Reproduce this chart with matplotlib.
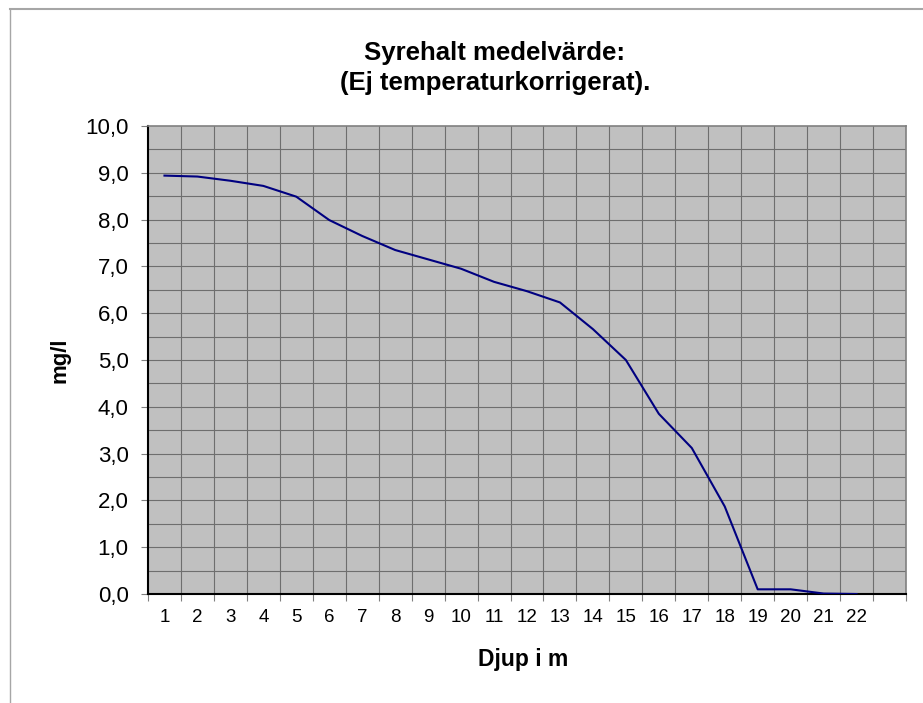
import matplotlib
matplotlib.use("Agg")
import matplotlib.pyplot as plt
from matplotlib.lines import Line2D
import numpy as np

plt.rcParams['font.family'] = ['Liberation Sans', 'DejaVu Sans']

depths = list(range(1, 23))
oxygen = [8.94, 8.92, 8.83, 8.72, 8.49, 7.99, 7.65, 7.35, 7.15, 6.95,
          6.67, 6.47, 6.23, 5.66, 5.00, 3.85, 3.12, 1.87, 0.10, 0.10,
          0.01, 0.00]
n_slots = 23
x_labels = [str(d) for d in depths] + [""]
y_ticks = np.arange(0, 10.01, 1.0)
y_tick_labels = [f"{v:.1f}".replace(".", ",") for v in y_ticks]

W, H = 923, 703
fig = plt.figure(figsize=(W / 100, H / 100), dpi=100)
fig.patch.set_facecolor("white")

# outer chart border (top and left)
fig.add_artist(Line2D([10 / W, 1], [1 - 9 / H, 1 - 9 / H], color="#A6A6A6", lw=1.5, transform=fig.transFigure))
fig.add_artist(Line2D([10 / W, 10 / W], [0, 1 - 9 / H], color="#A6A6A6", lw=1.0, transform=fig.transFigure))

L, R, T, B = 148, 906, 126, 594
ax = fig.add_axes([L / W, 1 - B / H, (R - L) / W, (B - T) / H])
ax.set_facecolor("#C0C0C0")

ax.set_xlim(0.5, n_slots + 0.5)
ax.set_ylim(0, 10)

# gridlines
for xb in np.arange(1.5, n_slots, 1.0):
    ax.axvline(xb, color="#6E6E6E", lw=0.8, zorder=1)
for yv in np.arange(0.5, 10, 0.5):
    ax.axhline(yv, color="#6E6E6E", lw=0.8, zorder=1)

ax.plot(depths, oxygen, color="#000080", lw=1.5, zorder=3)

# x ticks: marks at slot boundaries, labels at centres
ax.set_xticks(np.arange(0.5, n_slots + 1, 1.0))
ax.set_xticklabels([])
ax.set_xticks(np.arange(1, n_slots + 1), minor=True)
ax.set_xticklabels(x_labels, minor=True, fontsize=13.5)
ax.tick_params(axis="x", which="major", direction="out", length=5, width=0.8, color="#808080")
ax.tick_params(axis="x", which="minor", length=0, pad=11)

ax.set_yticks(y_ticks)
ax.set_yticklabels(y_tick_labels, fontsize=16)
ax.tick_params(axis="y", direction="out", length=5, width=0.8, color="#808080", pad=9)

for s in ["left", "bottom"]:
    ax.spines[s].set_color("black")
    ax.spines[s].set_linewidth(1.5)
for s in ["top", "right"]:
    ax.spines[s].set_color("#808080")
    ax.spines[s].set_linewidth(1.2)

fig.text(495 / W, 1 - 60 / H, "Syrehalt medelvärde:", ha="center", va="baseline",
         fontsize=18.5, fontweight="bold")
fig.text(495 / W, 1 - 90 / H, "(Ej temperaturkorrigerat).", ha="center", va="baseline",
         fontsize=18.5, fontweight="bold")
fig.text(523 / W, 1 - 666 / H, "Djup i m", ha="center", va="baseline",
         fontsize=16.5, fontweight="bold")
fig.text(60 / W, 1 - 360 / H, "mg/l", ha="center", va="center", rotation=90,
         fontsize=16, fontweight="bold")

fig.savefig("out.png", dpi=100)
